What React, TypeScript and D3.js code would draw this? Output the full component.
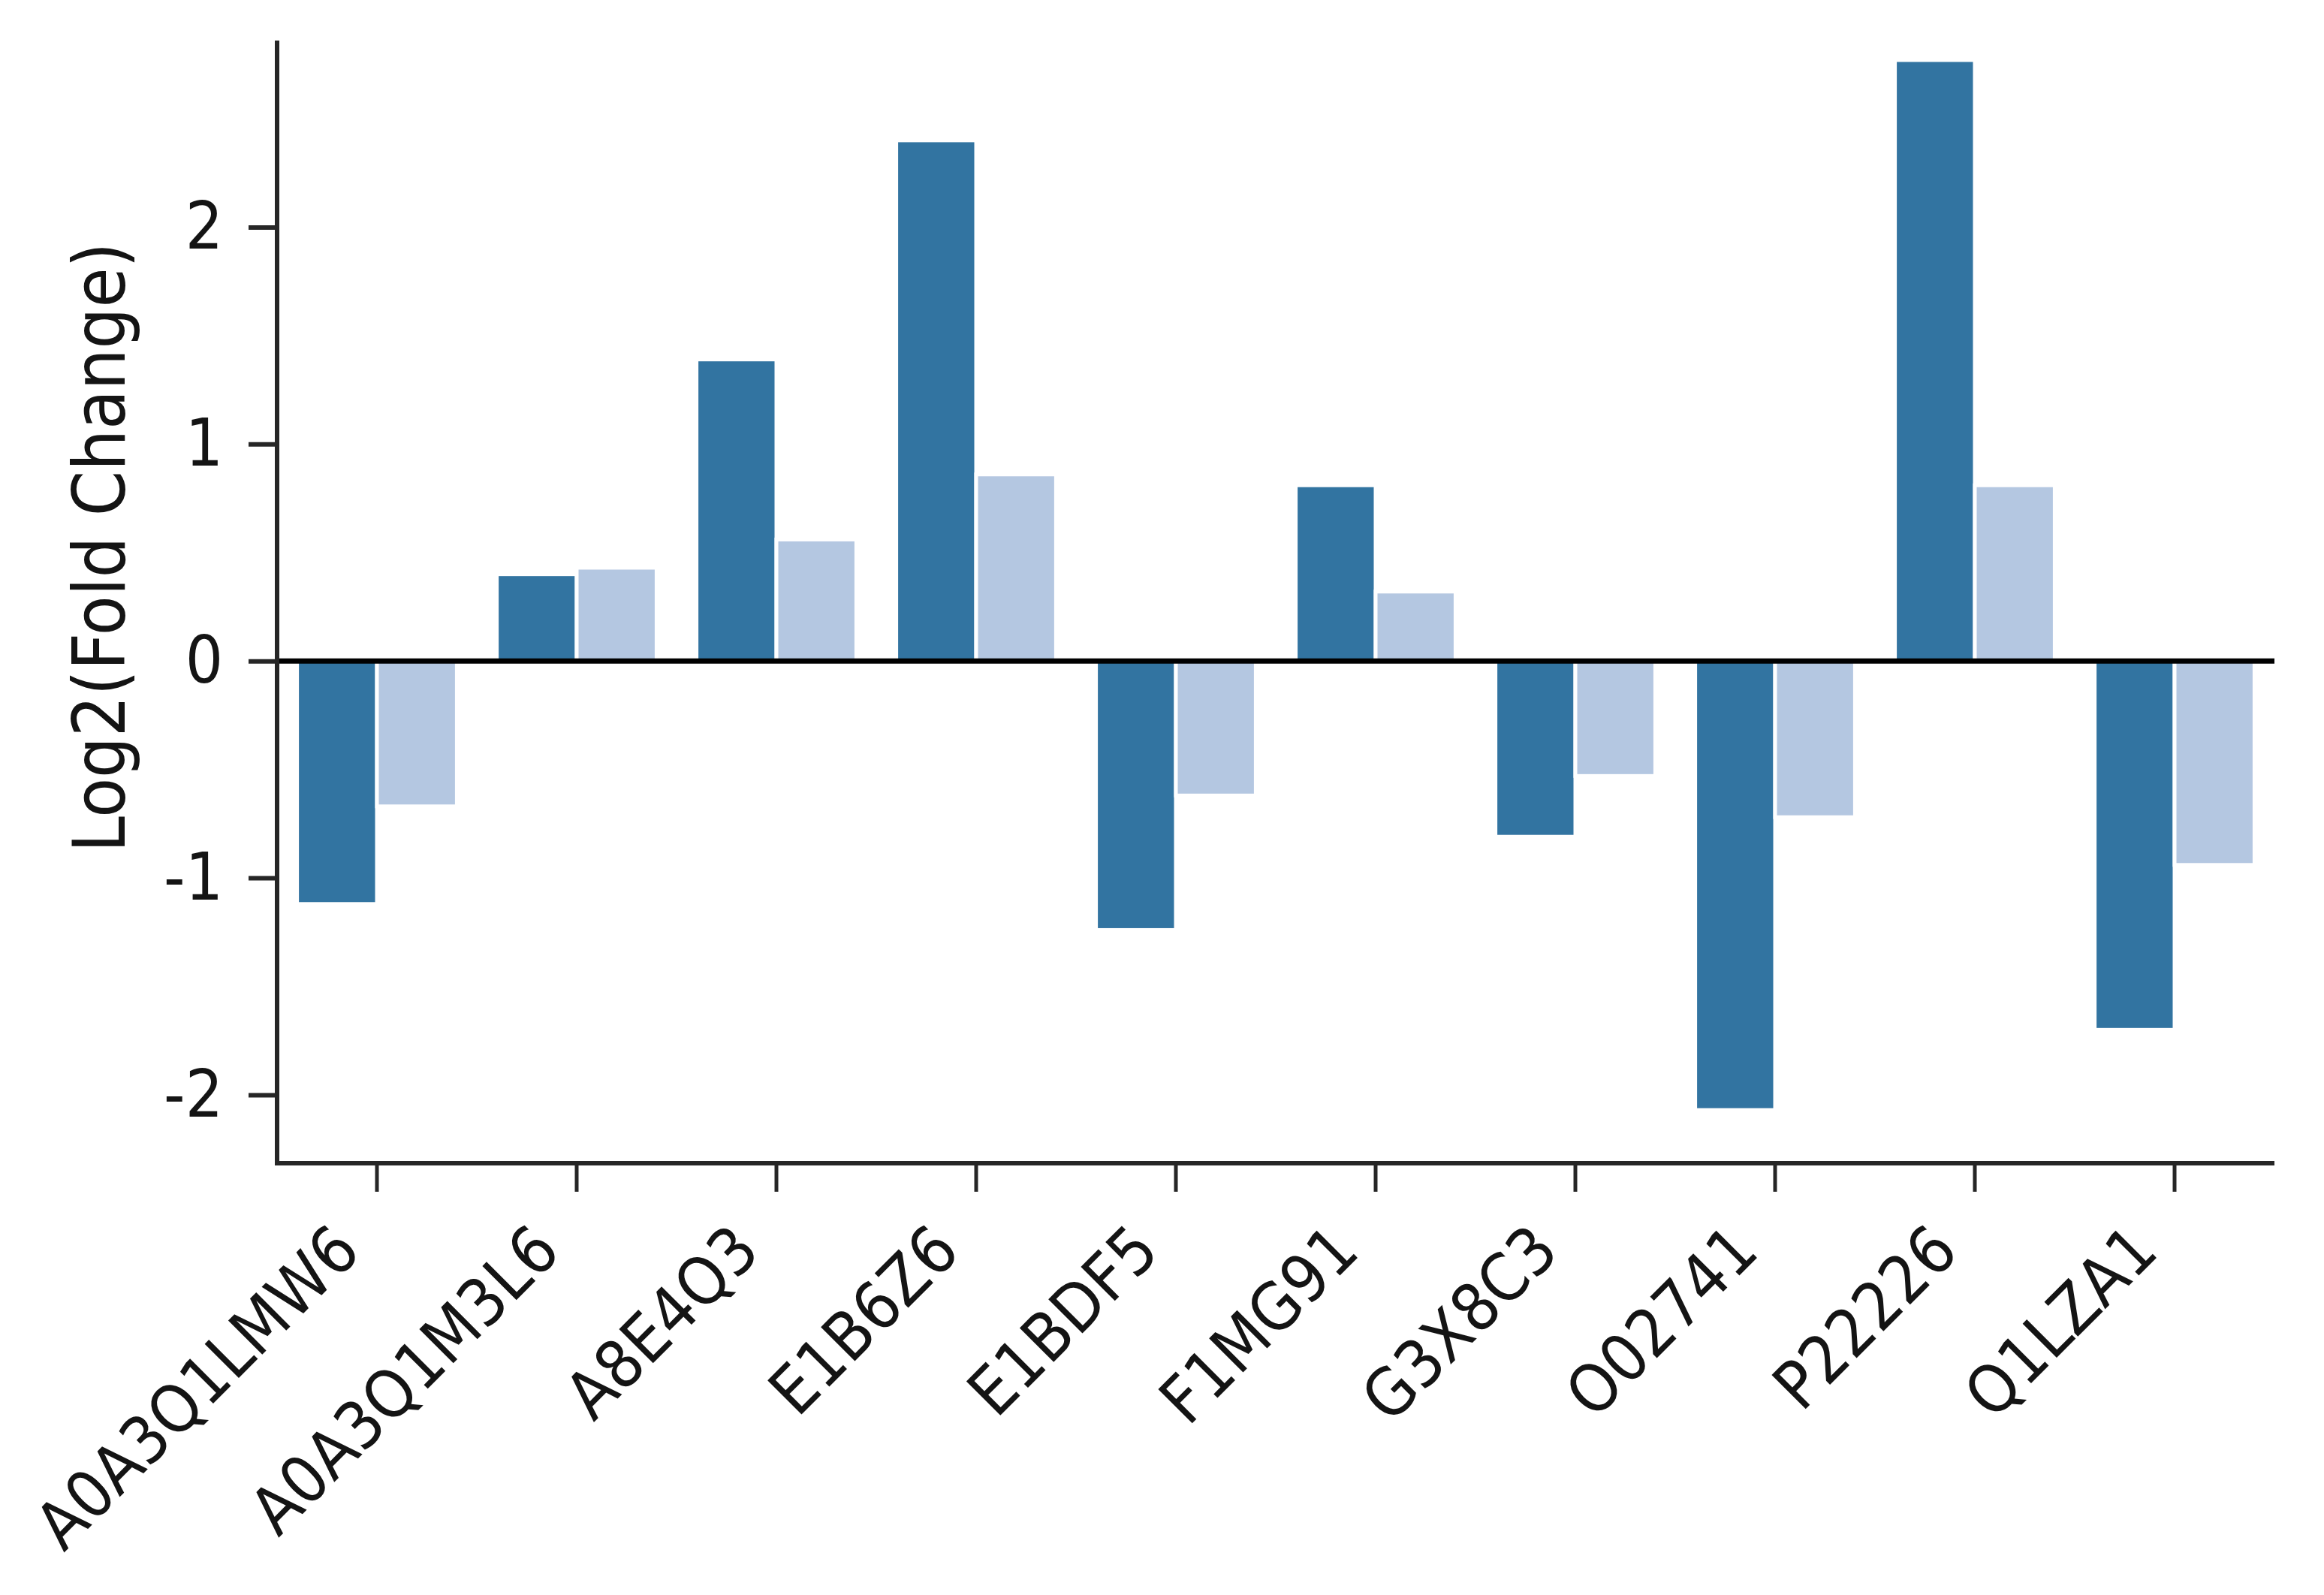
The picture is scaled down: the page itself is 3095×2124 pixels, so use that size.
import React, { useEffect, useRef } from 'react';
import * as d3 from 'd3';

// protein accessions on the x axis
const proteins: string[] = ['A0A3Q1LMW6', 'A0A3Q1M3L6', 'A8E4Q3', 'E1B6Z6', 'E1BDF5',
  'F1MG91', 'G3X8C3', 'O02741', 'P22226', 'Q1LZA1'];

// log2 fold change, first (dark) and second (light) comparison
const darkValues: number[] = [-1.12, 0.40, 1.39, 2.40, -1.24, 0.81, -0.81, -2.07, 2.77, -1.70];
const lightValues: number[] = [-0.67, 0.43, 0.56, 0.86, -0.62, 0.32, -0.53, -0.72, 0.81, -0.94];

const yTicks: number[] = [-2, -1, 0, 1, 2];

const W = 3095;
const H = 2124;
const FONT = '"DejaVu Sans Condensed", "DejaVu Sans", sans-serif';

const App = () => {
  const ref = useRef<SVGSVGElement>(null);

  useEffect(() => {
    document.body.style.margin = '0';
    const svg = d3.select(ref.current);
    svg.selectAll('*').remove();

    const x = d3.scaleBand<string>()
      .domain(proteins)
      .range([369, 3029])
      .padding(0);

    const y = d3.scaleLinear()
      .domain([-2.315, 2.86])
      .range([1549, 54]);

    const barW = x.step() * 0.4;

    const g = svg.append('g');

    // dark bars
    g.selectAll('.dark')
      .data(proteins)
      .join('rect')
      .attr('x', d => (x(d) as number) + x.bandwidth() / 2 - barW)
      .attr('width', barW)
      .attr('y', (d, i) => y(Math.max(0, darkValues[i])))
      .attr('height', (d, i) => Math.abs(y(darkValues[i]) - y(0)))
      .attr('fill', '#3274a1')
      .attr('stroke', 'white')
      .attr('stroke-width', 5);

    // light bars
    g.selectAll('.light')
      .data(proteins)
      .join('rect')
      .attr('x', d => (x(d) as number) + x.bandwidth() / 2)
      .attr('width', barW)
      .attr('y', (d, i) => y(Math.max(0, lightValues[i])))
      .attr('height', (d, i) => Math.abs(y(lightValues[i]) - y(0)))
      .attr('fill', '#b4c7e1')
      .attr('stroke', 'white')
      .attr('stroke-width', 5);

    // zero line
    g.append('line')
      .attr('x1', 369).attr('x2', 3029)
      .attr('y1', y(0)).attr('y2', y(0))
      .attr('stroke', '#000')
      .attr('stroke-width', 7);

    // y axis
    const yAxis = g.append('g')
      .attr('transform', 'translate(369,0)')
      .call(d3.axisLeft(y).tickValues(yTicks).tickSize(38).tickPadding(34)
        .tickFormat(d => String(d)));
    yAxis.select('.domain').remove();
    yAxis.selectAll('.tick line').attr('stroke', '#262626').attr('stroke-width', 6);
    yAxis.selectAll('.tick text')
      .attr('fill', '#141414')
      .attr('font-family', FONT)
      .attr('font-size', 88);

    // x axis
    const xAxis = g.append('g')
      .attr('transform', 'translate(0,1549)')
      .call(d3.axisBottom(x).tickSize(38).tickFormat(() => ''));
    xAxis.select('.domain').remove();
    xAxis.selectAll('.tick line').attr('stroke', '#262626').attr('stroke-width', 5);

    // rotated category labels
    g.selectAll('.xlab')
      .data(proteins)
      .join('text')
      .attr('transform', d => `translate(${(x(d) as number) + x.bandwidth() / 2 - 19},1670) rotate(-45)`)
      .attr('text-anchor', 'end')
      .attr('font-family', FONT)
      .attr('font-size', 88)
      .attr('fill', '#141414')
      .text(d => d);

    // spines
    g.append('line')
      .attr('x1', 369).attr('x2', 369)
      .attr('y1', 54).attr('y2', 1552)
      .attr('stroke', '#262626').attr('stroke-width', 6);
    g.append('line')
      .attr('x1', 366).attr('x2', 3029)
      .attr('y1', 1549).attr('y2', 1549)
      .attr('stroke', '#262626').attr('stroke-width', 6);

    // y label
    g.append('text')
      .attr('transform', 'translate(166,729) rotate(-90)')
      .attr('text-anchor', 'middle')
      .attr('font-family', FONT)
      .attr('font-size', 96)
      .attr('fill', '#141414')
      .text('Log2(Fold Change)');
  }, []);

  return <svg ref={ref} width={W} height={H} style={{ display: 'block', background: 'white' }} />;
};

export default App;
